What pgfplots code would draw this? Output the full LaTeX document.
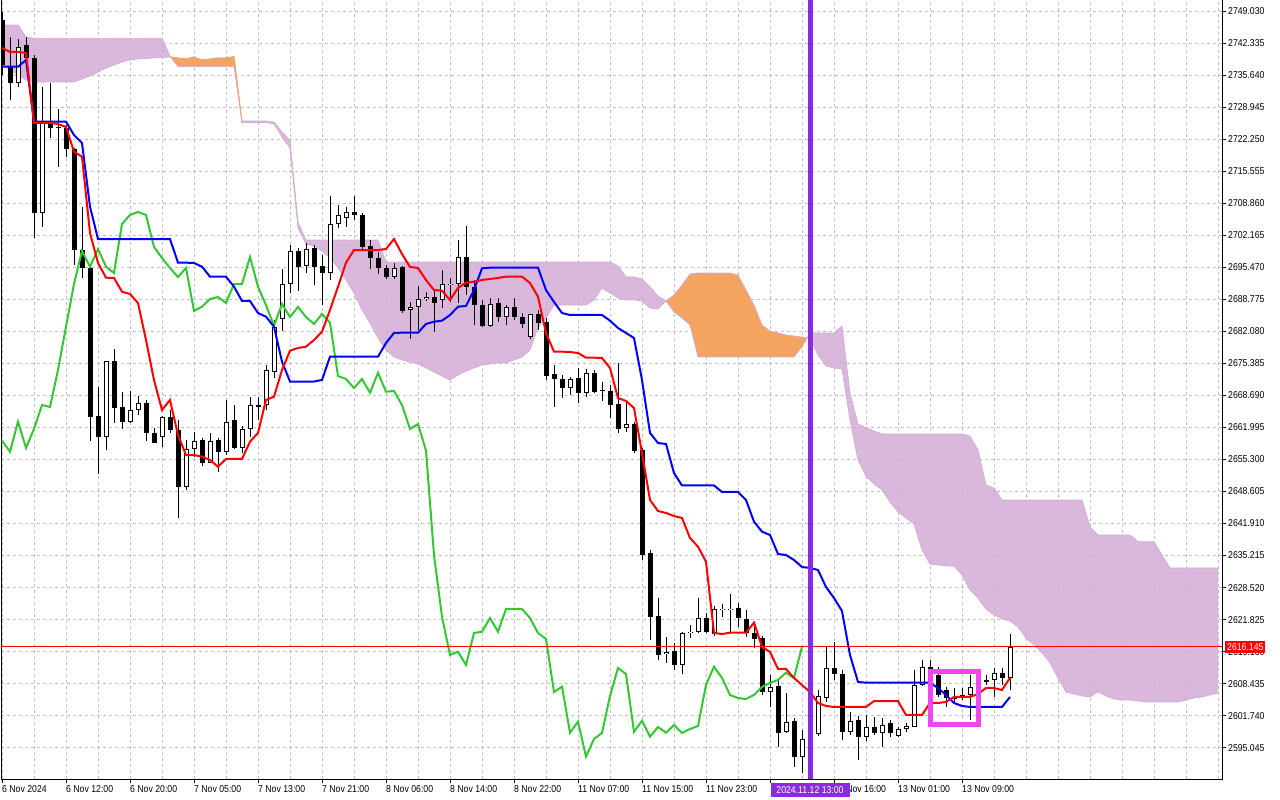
\documentclass[border=0pt]{standalone}
\usepackage{fontspec}
\setmainfont{Liberation Sans}[FakeStretch=0.87]
\usepackage{pgfplots}
\usepackage{pgfplotstable}
\pgfplotsset{compat=1.18}
\usepgfplotslibrary{fillbetween}
\definecolor{thistlec}{RGB}{210,172,214}
\definecolor{orangec}{RGB}{244,164,96}
\definecolor{gridc}{RGB}{196,192,200}
\definecolor{limec}{RGB}{50,200,50}
\definecolor{violetc}{RGB}{138,43,226}
\definecolor{magc}{RGB}{240,70,240}

\pgfplotstableread{
x o h l c w
0 2747.21 2748.88 2735.71 2737.80 0
1 2737.44 2743.72 2730.48 2734.10 0
2 2734.10 2743.23 2733.26 2741.62 1
3 2741.98 2743.72 2738.22 2739.26 0
4 2739.20 2739.89 2701.62 2706.91 0
5 2706.91 2733.26 2703.98 2725.67 1
6 2725.67 2734.03 2722.53 2724.62 0
7 2724.83 2728.60 2716.47 2724.62 0
8 2724.62 2725.25 2718.62 2720.23 0
9 2720.23 2720.44 2695.98 2699.11 0
10 2699.11 2708.17 2693.26 2695.35 0
11 2695.35 2695.77 2659.24 2664.25 0
12 2664.40 2670.53 2652.27 2660.01 0
13 2660.01 2675.90 2657.29 2675.90 1
14 2675.90 2678.41 2662.94 2666.14 0
15 2666.28 2669.48 2661.68 2663.21 0
16 2663.21 2669.63 2662.94 2665.65 1
17 2665.65 2668.58 2664.61 2667.12 1
18 2667.12 2667.75 2659.24 2660.85 0
19 2660.85 2661.89 2658.82 2658.82 0
20 2660.01 2664.40 2657.98 2664.19 1
21 2664.25 2665.65 2660.85 2661.47 0
22 2661.47 2663.56 2643.07 2649.55 0
23 2649.55 2659.38 2648.93 2657.50 1
24 2657.50 2661.12 2655.89 2659.24 1
25 2659.38 2659.80 2653.94 2654.63 0
26 2654.63 2660.85 2654.57 2659.24 1
27 2659.38 2659.80 2652.75 2656.93 0
28 2656.93 2667.75 2656.24 2663.21 1
29 2663.56 2666.70 2657.50 2657.71 0
30 2657.71 2662.31 2656.66 2661.68 1
31 2661.68 2668.44 2660.07 2666.70 1
32 2666.70 2668.44 2663.56 2666.28 0
33 2666.70 2675.06 2665.65 2674.02 1
34 2673.66 2684.47 2672.35 2683.07 1
35 2684.68 2695.14 2682.24 2692.00 1
36 2692.00 2700.16 2690.12 2698.90 1
37 2698.90 2699.53 2690.60 2695.62 0
38 2695.77 2700.58 2694.30 2699.32 1
39 2699.53 2700.16 2691.79 2695.62 0
40 2695.77 2698.07 2687.61 2694.30 0
41 2694.30 2710.40 2692.84 2704.55 1
42 2704.55 2708.52 2703.71 2706.43 1
43 2705.80 2708.10 2703.92 2707.06 1
44 2707.06 2710.40 2705.39 2706.43 0
45 2706.43 2706.85 2699.11 2699.74 0
46 2699.95 2701.20 2695.14 2697.44 0
47 2697.44 2698.69 2694.09 2695.35 0
48 2695.35 2695.98 2693.05 2693.47 0
49 2693.47 2696.39 2693.05 2695.35 1
50 2695.56 2695.77 2685.94 2686.36 0
51 2686.57 2688.30 2680.50 2687.26 1
52 2687.26 2691.58 2682.38 2688.87 1
53 2688.87 2690.33 2688.45 2689.28 1
54 2689.35 2690.54 2682.03 2688.03 0
55 2688.66 2694.93 2686.98 2692.00 1
56 2691.75 2693.26 2688.30 2692.00 1
57 2692.00 2701.20 2688.03 2697.65 1
58 2697.71 2704.13 2689.70 2691.44 0
59 2691.38 2692.84 2683.43 2687.61 0
60 2687.61 2688.66 2683.01 2683.28 0
61 2683.28 2689.08 2683.01 2687.82 1
62 2688.03 2689.08 2684.06 2685.10 0
63 2685.10 2687.61 2683.43 2687.19 1
64 2687.19 2689.08 2684.47 2685.10 0
65 2685.10 2685.94 2682.80 2683.64 0
66 2680.98 2685.73 2680.50 2685.73 1
67 2685.73 2686.57 2682.38 2683.91 0
68 2684.12 2684.89 2671.93 2672.76 0
69 2673.18 2675.06 2666.34 2672.14 0
70 2672.14 2672.97 2668.16 2670.26 0
71 2670.26 2672.56 2668.79 2672.14 1
72 2672.35 2674.44 2667.12 2669.27 0
73 2669.27 2674.23 2668.37 2673.45 1
74 2673.45 2674.02 2669.21 2669.48 0
75 2669.90 2671.57 2667.60 2669.63 0
76 2669.69 2670.88 2663.98 2666.70 0
77 2666.91 2675.48 2660.91 2661.68 0
78 2661.89 2667.39 2661.12 2662.73 1
79 2662.73 2663.21 2656.66 2657.14 0
80 2657.29 2657.71 2634.29 2635.33 0
81 2635.75 2636.38 2617.56 2622.43 0
82 2622.58 2626.34 2613.38 2614.42 0
83 2614.63 2618.19 2612.75 2615.11 1
84 2615.26 2616.93 2611.29 2612.33 0
85 2612.33 2619.29 2610.45 2619.02 1
86 2619.02 2620.70 2617.98 2619.29 1
87 2619.29 2626.34 2619.02 2622.16 1
88 2622.16 2623.21 2619.02 2619.29 0
89 2618.81 2624.67 2618.39 2624.04 1
90 2623.80 2625.09 2622.37 2624.04 1
91 2623.80 2627.18 2619.02 2624.04 1
92 2624.25 2625.30 2620.28 2622.16 0
93 2621.95 2623.83 2618.19 2619.02 0
94 2619.02 2620.70 2615.89 2617.77 0
95 2617.98 2618.39 2606.06 2606.69 0
96 2606.69 2610.24 2603.61 2607.79 1
97 2607.94 2609.20 2595.25 2598.17 0
98 2598.38 2606.54 2598.11 2600.48 1
99 2600.62 2601.25 2591.00 2593.16 0
100 2593.16 2598.74 2589.75 2596.86 1
101 2596.86 2599.79 2595.60 2598.11 1
102 2597.90 2607.10 2597.49 2605.85 1
103 2605.43 2616.16 2604.66 2611.70 1
104 2611.70 2617.20 2609.20 2610.45 0
105 2610.45 2611.29 2596.65 2598.38 0
106 2598.38 2602.57 2597.69 2600.68 1
107 2600.83 2601.67 2592.47 2597.34 0
108 2597.34 2601.88 2596.44 2599.37 1
109 2599.43 2601.46 2597.69 2598.17 0
110 2598.17 2601.25 2595.18 2599.79 1
111 2600.20 2600.83 2597.28 2598.11 0
112 2597.49 2599.37 2597.28 2598.95 1
113 2598.95 2600.20 2598.32 2599.58 1
114 2599.43 2611.29 2599.37 2608.15 1
115 2608.15 2613.38 2607.94 2611.98 1
116 2611.98 2613.38 2608.57 2609.61 0
117 2610.24 2611.91 2605.64 2606.06 0
118 2607.10 2607.73 2603.55 2605.43 0
119 2605.70 2607.52 2604.39 2605.22 0
120 2605.43 2607.52 2605.01 2606.06 1
121 2606.06 2610.24 2600.83 2607.73 1
122 2607.73 2609.20 2606.69 2608.57 1
123 2608.78 2610.24 2608.15 2609.20 1
124 2609.20 2611.70 2605.70 2610.72 1
125 2610.72 2611.70 2608.15 2609.61 0
126 2609.61 2618.81 2607.10 2616.145 1
}\candles

\pgfplotstableread{
x t k
0 2741.35 2737.44
1 2740.52 2737.44
2 2740.52 2737.44
3 2740.31 2738.84
4 2725.67 2725.94
5 2725.67 2725.94
6 2725.67 2725.94
7 2725.46 2725.94
8 2724.83 2725.94
9 2719.67 2723.16
10 2718.62 2721.49
11 2702.67 2708.17
12 2696.39 2701.41
13 2693.32 2701.41
14 2693.26 2701.41
15 2690.39 2701.41
16 2689.91 2701.41
17 2688.03 2701.41
18 2680.29 2701.41
19 2671.93 2701.41
20 2665.65 2701.41
21 2667.75 2701.41
22 2660.43 2696.46
23 2656.24 2696.46
24 2656.24 2696.39
25 2655.89 2695.62
26 2655.20 2693.53
27 2653.80 2693.53
28 2655.41 2693.53
29 2655.41 2691.44
30 2655.41 2688.45
31 2659.03 2688.45
32 2660.85 2685.94
33 2667.75 2685.16
34 2668.44 2683.07
35 2674.02 2675.75
36 2678.05 2671.61
37 2678.62 2671.61
38 2678.89 2671.61
39 2680.29 2671.61
40 2682.03 2671.93
41 2686.57 2676.80
42 2691.44 2676.80
43 2696.46 2676.80
44 2699.11 2676.80
45 2699.11 2676.80
46 2699.11 2676.80
47 2699.11 2676.80
48 2699.32 2679.67
49 2701.41 2681.76
50 2698.28 2681.82
51 2695.56 2681.82
52 2695.35 2681.82
53 2692.84 2683.64
54 2690.75 2684.12
55 2690.60 2684.33
56 2688.66 2685.52
57 2691.17 2687.26
58 2692.27 2687.40
59 2692.48 2690.75
60 2692.84 2695.28
61 2693.05 2695.41
62 2693.26 2695.41
63 2693.53 2695.41
64 2693.53 2695.41
65 2693.53 2695.41
66 2692.21 2695.41
67 2689.35 2695.41
68 2681.76 2690.75
69 2677.85 2688.24
70 2677.85 2685.94
71 2677.78 2685.52
72 2677.57 2685.52
73 2676.59 2685.52
74 2676.59 2685.52
75 2676.53 2685.52
76 2674.44 2684.33
77 2668.16 2682.80
78 2667.54 2681.76
79 2666.07 2680.71
80 2656.66 2671.93
81 2646.83 2660.85
82 2644.53 2658.75
83 2644.12 2658.55
84 2643.49 2652.48
85 2643.07 2649.87
86 2638.89 2649.87
87 2637.07 2649.87
88 2633.93 2649.87
89 2619.02 2649.87
90 2618.81 2648.51
91 2619.08 2648.51
92 2619.08 2648.51
93 2619.08 2646.83
94 2621.18 2642.30
95 2616.16 2640.21
96 2615.05 2639.52
97 2611.50 2635.54
98 2611.50 2635.33
99 2609.61 2634.29
100 2608.15 2632.82
101 2606.69 2632.62
102 2604.39 2632.20
103 2603.76 2628.64
104 2603.55 2626.34
105 2603.55 2623.62
106 2603.55 2614.42
107 2603.55 2608.78
108 2603.55 2608.63
109 2604.80 2608.63
110 2604.80 2608.63
111 2604.80 2608.63
112 2604.80 2608.63
113 2601.88 2608.63
114 2601.88 2608.63
115 2601.88 2608.63
116 2604.39 2608.63
117 2604.39 2607.52
118 2604.59 2606.06
119 2605.64 2604.39
120 2605.64 2603.76
121 2605.64 2603.55
122 2606.27 2603.55
123 2607.52 2603.55
124 2607.52 2603.55
125 2607.10 2603.55
126 2609.61 2605.64
}\lines

\pgfplotstableread{
x a b
0 2737.80 2746.16
1 2736.75 2746.16
2 2735.70 2746.16
3 2734.66 2743.65
4 2734.24 2743.38
5 2734.24 2743.38
6 2734.24 2743.38
7 2734.24 2743.38
8 2734.24 2743.38
9 2734.24 2743.38
10 2734.87 2743.38
11 2735.50 2743.38
12 2736.33 2743.38
13 2737.17 2743.38
14 2737.80 2743.38
15 2738.43 2743.38
16 2738.84 2743.38
17 2739.05 2743.38
18 2739.16 2743.38
19 2739.26 2743.38
20 2739.37 2743.38
21 2739.47 2739.68
22 2739.26 2737.44
23 2739.05 2737.44
24 2739.47 2737.44
25 2738.84 2737.44
26 2739.05 2737.44
27 2739.26 2737.44
28 2739.26 2737.44
29 2739.53 2737.44
30 2725.77 2726.09
31 2725.77 2726.09
32 2725.77 2726.09
33 2725.77 2726.09
34 2725.46 2725.88
35 2722.74 2723.79
36 2720.44 2722.11
37 2703.71 2704.97
38 2700.37 2701.20
39 2699.95 2701.20
40 2698.90 2701.20
41 2697.44 2701.20
42 2695.35 2701.20
43 2692.84 2701.20
44 2690.12 2701.20
45 2686.57 2701.20
46 2683.85 2701.20
47 2680.71 2701.20
48 2678.20 2696.60
49 2676.74 2696.60
50 2676.11 2696.60
51 2675.69 2696.60
52 2675.27 2696.60
53 2674.44 2696.60
54 2673.60 2696.60
55 2672.76 2696.60
56 2671.93 2696.60
57 2672.97 2696.60
58 2673.81 2696.60
59 2674.44 2696.60
60 2675.06 2696.60
61 2675.27 2696.60
62 2675.48 2696.60
63 2675.48 2696.60
64 2676.11 2696.60
65 2676.74 2696.60
66 2678.20 2696.60
67 2683.01 2696.60
68 2684.89 2696.60
69 2687.61 2696.60
70 2687.61 2696.60
71 2687.61 2696.60
72 2687.61 2696.60
73 2687.61 2696.60
74 2688.66 2696.60
75 2691.17 2696.60
76 2690.12 2696.60
77 2689.08 2695.77
78 2688.66 2693.47
79 2688.66 2693.47
80 2688.45 2693.05
81 2686.98 2691.38
82 2686.77 2689.49
83 2688.45 2688.45
84 2689.70 2686.15
85 2691.79 2684.89
86 2694.09 2683.43
87 2694.30 2676.74
88 2694.30 2676.74
89 2694.30 2676.74
90 2694.30 2676.74
91 2694.30 2676.74
92 2693.88 2676.74
93 2690.75 2676.74
94 2687.61 2676.74
95 2683.43 2676.74
96 2682.17 2676.74
97 2681.76 2676.74
98 2681.34 2676.74
99 2681.13 2676.74
100 2680.92 2678.83
101 2680.71 2681.76
102 2677.16 2681.76
103 2674.86 2681.76
104 2674.44 2681.76
105 2674.23 2683.22
106 2663.56 2669.21
107 2655.20 2662.73
108 2651.85 2661.89
109 2650.18 2661.26
110 2648.93 2660.64
111 2646.42 2660.64
112 2644.33 2660.64
113 2643.07 2660.64
114 2641.82 2660.64
115 2636.38 2660.64
116 2633.45 2660.64
117 2633.24 2660.64
118 2633.03 2660.64
119 2633.03 2660.64
120 2631.15 2660.64
121 2628.02 2660.22
122 2626.34 2657.29
123 2624.04 2649.97
124 2622.79 2649.34
125 2621.95 2646.83
126 2621.53 2646.83
127 2620.28 2646.83
128 2617.98 2646.83
129 2616.51 2646.83
130 2614.84 2646.83
131 2612.75 2646.83
132 2609.61 2646.83
133 2606.69 2646.83
134 2606.27 2646.83
135 2605.85 2646.83
136 2605.64 2641.19
137 2606.69 2639.52
138 2605.85 2639.52
139 2605.22 2639.52
140 2605.01 2639.52
141 2605.01 2639.52
142 2604.80 2638.12
143 2604.59 2638.12
144 2604.59 2638.12
145 2604.59 2635.33
146 2604.59 2632.62
147 2604.59 2632.62
148 2605.01 2632.62
149 2605.43 2632.62
150 2605.64 2632.62
151 2606.06 2632.62
152 2606.48 2632.62
}\cloud

\begin{document}
\begin{tikzpicture}
\begin{axis}[
  scale only axis, width=1221bp, height=779bp,
  at={(0,0)}, anchor=south west,
  xmin=-0.125, xmax=152.5, ymin=2588.49, ymax=2751.39,
  axis line style={black, line width=1bp},
  tick align=outside, major tick length=4bp, minor tick length=0bp,
  tick style={black, line width=0.8bp},
  xtick pos=lower, ytick pos=right, yticklabel pos=right,
  xtick={0,8,...,120},
  minor xtick={4,8,...,152},
  xticklabels={6 Nov 2024,6 Nov 12:00,6 Nov 20:00,7 Nov 05:00,7 Nov 13:00,7 Nov 21:00,8 Nov 06:00,8 Nov 14:00,8 Nov 22:00,11 Nov 07:00,11 Nov 15:00,11 Nov 23:00,,12 Nov 16:00,13 Nov 01:00,13 Nov 09:00},
  ytick={2595.045,2601.740,2608.435,2615.130,2621.825,2628.520,2635.215,2641.910,2648.605,2655.300,2661.995,2668.690,2675.385,2682.080,2688.775,2695.470,2702.165,2708.860,2715.555,2722.250,2728.945,2735.640,2742.335,2749.030},
  yticklabels={2595.045,2601.740,2608.435,2615.130,2621.825,2628.520,2635.215,2641.910,2648.605,2655.300,2661.995,2668.690,2675.385,2682.080,2688.775,2695.470,2702.165,2708.860,2715.555,2722.250,2728.945,2735.640,2742.335,2749.030},
  ticklabel style={font=\fontsize{10bp}{12bp}\selectfont, text=black},
  xticklabel style={anchor=north west, inner sep=0pt, yshift=-2bp},
  yticklabel style={anchor=west, inner sep=0pt, xshift=2bp},
  grid=both,
  major grid style={gridc, line width=0.8bp, dash pattern=on 3bp off 3bp},
  minor grid style={gridc, line width=0.8bp, dash pattern=on 3bp off 3bp},
]
% cloud
\addplot[name path=A, draw=thistlec, line width=0.7bp] table[x=x,y=a]{\cloud};
\addplot[name path=B, draw=thistlec, line width=0.7bp] table[x=x,y=b]{\cloud};
\addplot[fill=thistlec, fill opacity=0.85, draw=none] fill between[of=A and B, soft clip={domain=-1:21.1}];
\addplot[fill=orangec, draw=none] fill between[of=A and B, soft clip={domain=21.1:29.87}];
\addplot[fill=thistlec, fill opacity=0.85, draw=none] fill between[of=A and B, soft clip={domain=29.87:83}];
\addplot[fill=orangec, draw=none] fill between[of=A and B, soft clip={domain=83:100.67}];
\addplot[fill=thistlec, fill opacity=0.85, draw=none] fill between[of=A and B, soft clip={domain=100.67:153}];
\addplot[orangec, line width=0.9bp, restrict x to domain=21:30] table[x=x,y=a]{\cloud};
% candles: wicks, bodies, white interiors
\addplot[black, line width=1bp, quiver={u=0, v=\thisrow{h}-\thisrow{l}}] table[x=x, y=l]{\candles};
\addplot[black, line width=5bp, quiver={u=0, v=\thisrow{c}-\thisrow{o}}] table[x=x, y=o]{\candles};
\addplot[white, line width=3bp, quiver={u=0, v=\thisrow{c}-\thisrow{o}-0.42}, restrict expr to domain={\thisrow{w}}{0.5:1.5}] table[x=x, y expr=\thisrow{o}+0.21]{\candles};
% Chikou, Kijun, Tenkan
\addplot[limec, line width=2bp, restrict expr to domain={\thisrow{x}}{26:126}] table[x expr=\thisrow{x}-26, y=c]{\candles};
\addplot[blue, line width=2bp] table[x=x, y=k]{\lines};
\addplot[red, line width=2bp] table[x=x, y=t]{\lines};
% price line
\addplot[red, line width=1bp] coordinates {(-0.125,2616.145) (152.5,2616.145)};
% vertical marker
\addplot[violetc, line width=5bp] coordinates {(101,2588.49) (101,2751.39)};
% highlight rectangle
\draw[magc, line width=5bp] (axis cs:116.1,2610.97) rectangle (axis cs:122.0,2599.95);
\coordinate (pl) at (axis cs:152.5,2616.145);
\coordinate (pv) at (axis cs:101,2588.49);
\end{axis}
\node[anchor=west, fill=red, text=white, inner xsep=2bp, inner ysep=0pt, minimum height=12bp, xshift=3bp, font=\fontsize{10bp}{12bp}\selectfont] at (pl) {2616.145};
\node[anchor=north, fill=violetc, text=white, inner sep=0pt, minimum width=79bp, minimum height=14bp, yshift=-4bp, font=\fontsize{10bp}{12bp}\selectfont] at (pv) {2024.11.12 13:00};
\pgfresetboundingbox
\useasboundingbox (-1bp,-21bp) rectangle (1279bp,779bp);
\end{tikzpicture}
\end{document}
